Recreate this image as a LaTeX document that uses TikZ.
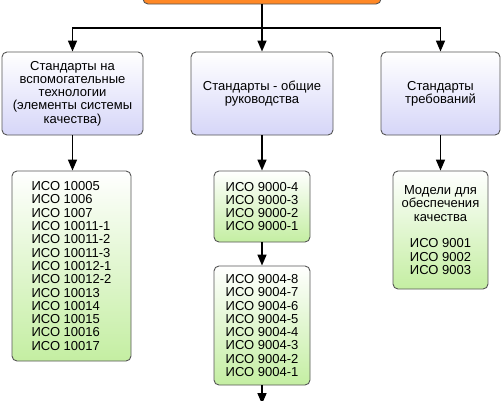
\documentclass[tikz,border=0pt]{standalone}
\usepackage{fontspec}
\setmainfont{Liberation Sans}
\usetikzlibrary{arrows.meta}
\definecolor{lav}{RGB}{214,214,248}
\definecolor{grn}{RGB}{196,238,162}
\definecolor{org}{RGB}{255,136,38}
\definecolor{bord}{RGB}{85,85,85}
\tikzset{
  box/.style={draw=bord, line width=0.9pt, rounded corners=5pt, inner sep=0pt,
    font=\fontsize{13}{13.3}\selectfont},
  hdr/.style={box, top color=white, bottom color=lav, align=center},
  grnbox/.style={box, top color=white, bottom color=grn},
  topbox/.style={box, fill=org},
  conn/.style={-{Triangle[length=11pt,width=9pt]}, line width=1.6pt}
}
\begin{document}
\begin{tikzpicture}[x=1pt,y=-1pt]
\useasboundingbox (0,0) rectangle (501,400);
\node[topbox, minimum width=238pt, minimum height=40pt] (top) at (262,-16) {};
\node[hdr, minimum width=141pt, minimum height=83pt] (h1) at (72.5,93.5)
  {Стандарты на\\вспомогательные\\технологии\\(элементы системы\\качества)};
\node[hdr, minimum width=142pt, minimum height=83pt] (h2) at (262,93.5)
  {Стандарты - общие\\руководства};
\node[hdr, minimum width=119pt, minimum height=83pt] (h3) at (440.5,93.5)
  {Стандарты\\требований};
\node[grnbox, align=left, minimum width=119pt, minimum height=190pt] (g1) at (71.5,266)
  {ИСО 10005\\ИСО 1006\\ИСО 1007\\ИСО 10011-1\\ИСО 10011-2\\ИСО 10011-3\\ИСО 10012-1\\ИСО 10012-2\\ИСО 10013\\ИСО 10014\\ИСО 10015\\ИСО 10016\\ИСО 10017};
\node[grnbox, align=left, minimum width=96pt, minimum height=71pt] (g2a) at (262,206.5)
  {ИСО 9000-4\\ИСО 9000-3\\ИСО 9000-2\\ИСО 9000-1};
\node[grnbox, align=left, minimum width=96pt, minimum height=119pt] (g2b) at (262,325.5)
  {ИСО 9004-8\\ИСО 9004-7\\ИСО 9004-6\\ИСО 9004-5\\ИСО 9004-4\\ИСО 9004-3\\ИСО 9004-2\\ИСО 9004-1};
\node[grnbox, align=center, minimum width=95pt, minimum height=118pt] (g3) at (440.5,230)
  {Модели для\\обеспечения\\качества\\[13.3pt]ИСО 9001\\ИСО 9002\\ИСО 9003};
\coordinate (j) at (262,28);
\coordinate (e) at (262,404);
\draw[line width=1.6pt] (top.south) -- (j);
\draw[conn] (j) -| (h1.north);
\draw[conn] (j) -- (h2.north);
\draw[conn] (j) -| (h3.north);
\draw[conn] (h1.south) -- (h1.south |- g1.north);
\draw[conn] (h2.south) -- (g2a.north);
\draw[conn] (h3.south) -- (g3.north);
\draw[conn] (g2a.south) -- (g2b.north);
\draw[conn] (g2b.south) -- (e);
\end{tikzpicture}
\end{document}
